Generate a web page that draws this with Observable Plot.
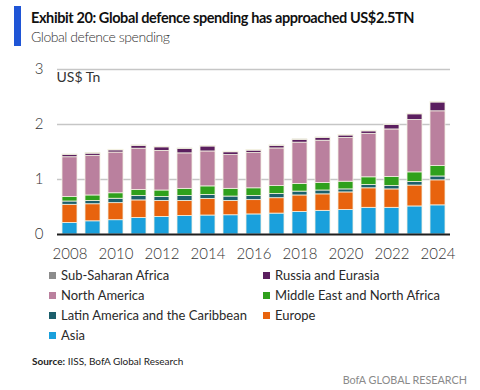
<!DOCTYPE html>
<html>
<head>
<meta charset="utf-8">
<script src="https://cdn.jsdelivr.net/npm/d3@7"></script>
<script src="https://cdn.jsdelivr.net/npm/@observablehq/plot@0.6"></script>
<style>
  html, body { margin: 0; padding: 0; background: #fff; }
  body { width: 480px; height: 390px; position: relative; overflow: hidden; font-family: Lato, "Open Sans", sans-serif; color: #222; }
  .abs { position: absolute; white-space: nowrap; }
  #bar { left: 14px; top: 6px; width: 7px; height: 40px; background: #1f55d6; }
  #title { left: 31px; top: 9px; font-size: 14.5px; letter-spacing: -0.4px; font-weight: 700; color: #111; }
  #subtitle { left: 31px; top: 28px; font-size: 14px; letter-spacing: -0.45px; font-weight: 300; color: #333; }
  #chart { left: 0; top: 55px; }
  .leg { font-size: 13px; color: #2a2a2a; display: flex; align-items: center; }
  .sw { width: 7px; height: 7px; margin-right: 5px; display: inline-block; }
  #source { left: 32px; top: 355px; font-size: 10px; color: #222; }
  #brand { left: 0; width: 467px; text-align: right; top: 373px; font-size: 10.8px; color: #8a8a8a; }
</style>
</head>
<body>
<div id="bar" class="abs"></div>
<div id="title" class="abs">Exhibit 20: Global defence spending has approached US$2.5TN</div>
<div id="subtitle" class="abs">Global defence spending</div>
<div id="chart" class="abs"></div>
<div id="legend"></div>
<div id="source" class="abs"><b>Source:</b> IISS, BofA Global Research</div>
<div id="brand" class="abs">BofA GLOBAL RESEARCH</div>
<script>
const years = [2008, 2009, 2010, 2011, 2012, 2013, 2014, 2015, 2016, 2017, 2018, 2019, 2020, 2021, 2022, 2023, 2024];
const xTicks = [2008, 2010, 2012, 2014, 2016, 2018, 2020, 2022, 2024];
const yTicks = [0, 1, 2, 3];

// Stack order, bottom to top
const regions = ["Asia", "Europe", "Latin America and the Caribbean", "Middle East and North Africa", "North America", "Russia and Eurasia", "Sub-Saharan Africa"];
const colors = ["#1aa0dc", "#e8630d", "#1c5f6c", "#2fa01c", "#ba809e", "#5b1f5f", "#8c8c8c"];

// US$ Tn
const asia     = [0.21, 0.24, 0.26, 0.30, 0.32, 0.335, 0.345, 0.35, 0.365, 0.38, 0.41, 0.43, 0.445, 0.485, 0.485, 0.51, 0.53];
const europe   = [0.33, 0.31, 0.31, 0.32, 0.29, 0.275, 0.30, 0.26, 0.26, 0.28, 0.30, 0.30, 0.32, 0.355, 0.335, 0.38, 0.455];
const latam    = [0.06, 0.06, 0.08, 0.08, 0.07, 0.09, 0.075, 0.08, 0.075, 0.075, 0.07, 0.07, 0.055, 0.06, 0.06, 0.065, 0.07];
const mena     = [0.08, 0.10, 0.10, 0.11, 0.12, 0.13, 0.155, 0.14, 0.14, 0.145, 0.14, 0.135, 0.14, 0.14, 0.165, 0.175, 0.19];
const namerica = [0.725, 0.72, 0.74, 0.75, 0.72, 0.645, 0.635, 0.615, 0.64, 0.685, 0.75, 0.77, 0.795, 0.79, 0.865, 0.95, 0.995];
const russia   = [0.04, 0.04, 0.04, 0.05, 0.065, 0.08, 0.09, 0.05, 0.045, 0.045, 0.05, 0.05, 0.045, 0.045, 0.08, 0.105, 0.16];
const ssa      = [0.01, 0.01, 0.01, 0.01, 0.01, 0.01, 0.01, 0.01, 0.01, 0.01, 0.01, 0.01, 0.01, 0.01, 0.01, 0.01, 0.01];

const series = [asia, europe, latam, mena, namerica, russia, ssa];
const data = [];
regions.forEach((r, i) => years.forEach((y, j) => data.push({year: y, region: r, value: series[i][j]})));

const chart = Plot.plot({
  width: 480,
  height: 215,
  marginLeft: 57,
  marginRight: 30,
  marginTop: 14,
  marginBottom: 36,
  style: {fontFamily: "Lato, 'Open Sans', sans-serif", fontSize: "15px", color: "#333", background: "transparent"},
  x: {type: "band", domain: years, paddingInner: 0.35, paddingOuter: 0.185, label: null},
  y: {domain: [0, 3], label: null},
  color: {domain: regions, range: colors},
  marks: [
    Plot.ruleY([1, 2, 3], {stroke: "#c6c6c6", strokeWidth: 1.3}),
    Plot.barY(data, {x: "year", y: "value", fill: "region", order: regions, stroke: "#f3f1e2", strokeWidth: 0.8}),
    Plot.ruleY([0], {stroke: "#1e1e1e", strokeWidth: 2}),
    Plot.axisX({ticks: xTicks, tickFormat: d => String(d), tickSize: 0, tickPadding: 14, fontSize: 15, fontWeight: 300, label: null}),
    Plot.axisY({ticks: yTicks, tickFormat: d => String(d), tickSize: 0, tickPadding: 14, fontSize: 15, fontWeight: 300, label: null}),
    Plot.text(["US$ Tn"], {frameAnchor: "top-left", lineAnchor: "top", textAnchor: "start", dx: -1, dy: 3, fontSize: 14, fill: "#333"})
  ]
});
document.getElementById("chart").appendChild(chart);

// Legend (row-major, reverse of stack order)
const legendOrder = ["Sub-Saharan Africa", "Russia and Eurasia", "North America", "Middle East and North Africa", "Latin America and the Caribbean", "Europe", "Asia"];
const leg = document.getElementById("legend");
legendOrder.forEach((r, k) => {
  const row = Math.floor(k / 2), col = k % 2;
  const d = document.createElement("div");
  d.className = "abs leg";
  d.style.left = (col === 0 ? 49 : 263) + "px";
  d.style.top = (267 + row * 20) + "px";
  const sw = document.createElement("span");
  sw.className = "sw";
  sw.style.background = colors[regions.indexOf(r)];
  d.appendChild(sw);
  d.appendChild(document.createTextNode(r));
  leg.appendChild(d);
});
</script>
</body>
</html>
